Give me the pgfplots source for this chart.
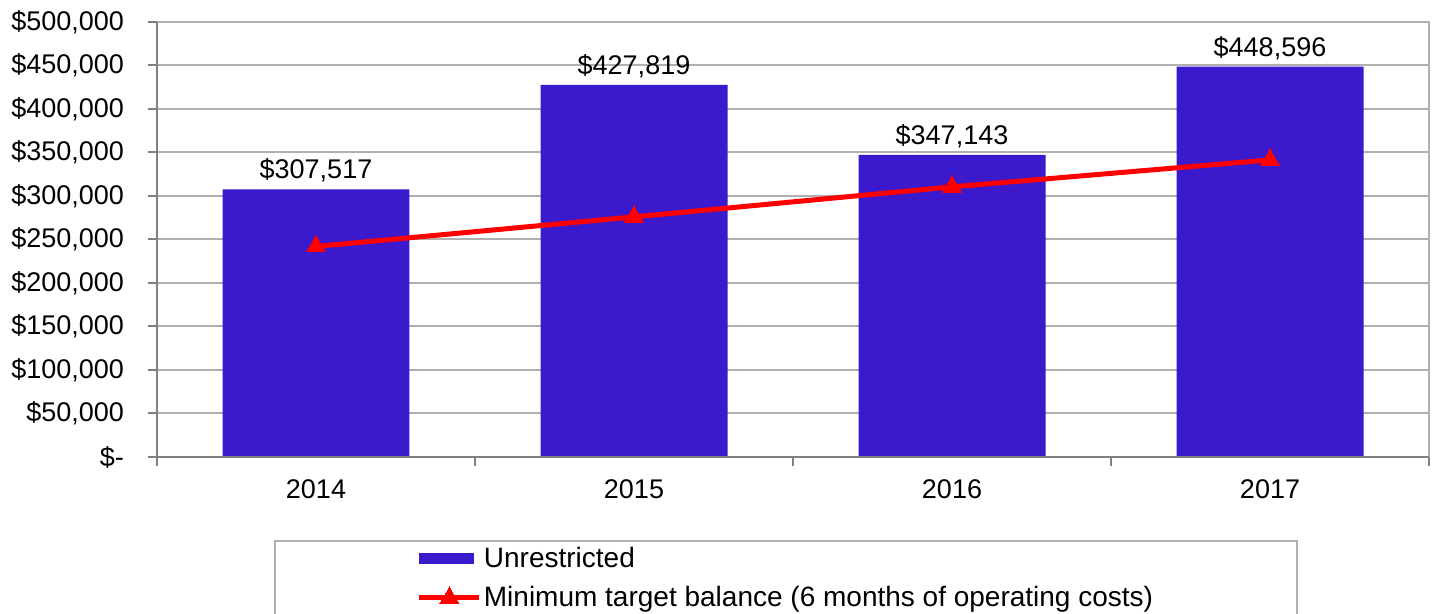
\documentclass[border=0pt]{standalone}
\usepackage{pgfplots}
\pgfplotsset{compat=1.18}
\usepackage{fontspec}
\setmainfont{Liberation Sans}
\definecolor{barblue}{RGB}{59,25,204}
\definecolor{gridgray}{RGB}{176,176,176}
\definecolor{axgray}{RGB}{128,128,128}
\pgfplotsset{
  barleg/.style={legend image code/.code={\fill[barblue] (0pt,-2.75pt) rectangle (27.5pt,2.75pt);}},
  lineleg/.style={legend image code/.code={\draw[##1, mark=none] plot coordinates {(0pt,0pt) (30pt,0pt)};
    \draw[##1, only marks] plot coordinates {(15pt,0pt)};}},
}
\begin{document}
\begin{tikzpicture}
\begin{axis}[
  name=ax,
  width=636pt, height=217.5pt,
  scale only axis,
  xmin=-0.5, xmax=3.5,
  ymin=0, ymax=500000,
  xtick={0,1,2,3},
  xticklabels={2014,2015,2016,2017},
  minor xtick={-0.5,0.5,1.5,2.5,3.5},
  ytick={0,50000,100000,150000,200000,250000,300000,350000,400000,450000,500000},
  yticklabels={{\$-},{\$50,000},{\$100,000},{\$150,000},{\$200,000},{\$250,000},{\$300,000},{\$350,000},{\$400,000},{\$450,000},{\$500,000}},
  scaled y ticks=false,
  tick pos=left,
  ymajorgrids,
  grid style={draw=gridgray, line width=1pt},
  axis line style={draw=gridgray, line width=1pt},
  major tick length=0pt,
  minor tick length=4.5pt,
  every tick/.style={draw=axgray, line width=1pt},
  extra y ticks={0,50000,100000,150000,200000,250000,300000,350000,400000,450000,500000},
  extra y tick labels={},
  extra y tick style={major tick length=4.5pt, tick align=outside, grid=none, tick style={draw=axgray,line width=1pt}},
  xtick align=outside,
  minor tick style={draw=axgray},
  tick label style={font=\fontsize{13.5}{16}\selectfont},
  yticklabel style={xshift=-13pt},
  xticklabel style={yshift=-8pt},
  legend style={draw=gridgray, line width=1pt, at={(0.4945,-0.1908)}, anchor=north,
    font=\fontsize{14}{16.5}\selectfont, inner xsep=71pt, inner ysep=1pt,
    row sep=4pt, nodes={inner xsep=1pt},
    /tikz/every even column/.append style={column sep=0pt}},
  legend cell align=left,
  clip=false,
]
\addplot[ybar, bar width=0.588, fill=barblue, draw=none,
  point meta=explicit symbolic,
  nodes near coords, every node near coord/.append style={font=\fontsize{13.5}{16}\selectfont, black},
  barleg]
  coordinates {(0,307517)[\$307,517] (1,427819)[\$427,819] (2,347143)[\$347,143] (3,448596)[\$448,596]};
\addlegendentry{Unrestricted}
\addplot[red, line width=2.5pt, mark=triangle*, mark size=5.5pt, mark options={line width=0pt}, lineleg]
  coordinates {(0,242000) (1,276000) (2,310500) (3,341500)};
\addlegendentry{Minimum target balance (6 months of operating costs)}
\draw[axgray, line width=1pt] (axis cs:-0.5,0) -- (axis cs:-0.5,500000);
\draw[axgray, line width=1pt] (axis cs:-0.5,0) -- (axis cs:3.5,0);
\end{axis}
\pgfresetboundingbox
\path ([xshift=-78.5pt, yshift=-78.5pt]ax.south west) rectangle ([xshift=4pt, yshift=11pt]ax.north east);
\end{tikzpicture}
\end{document}
